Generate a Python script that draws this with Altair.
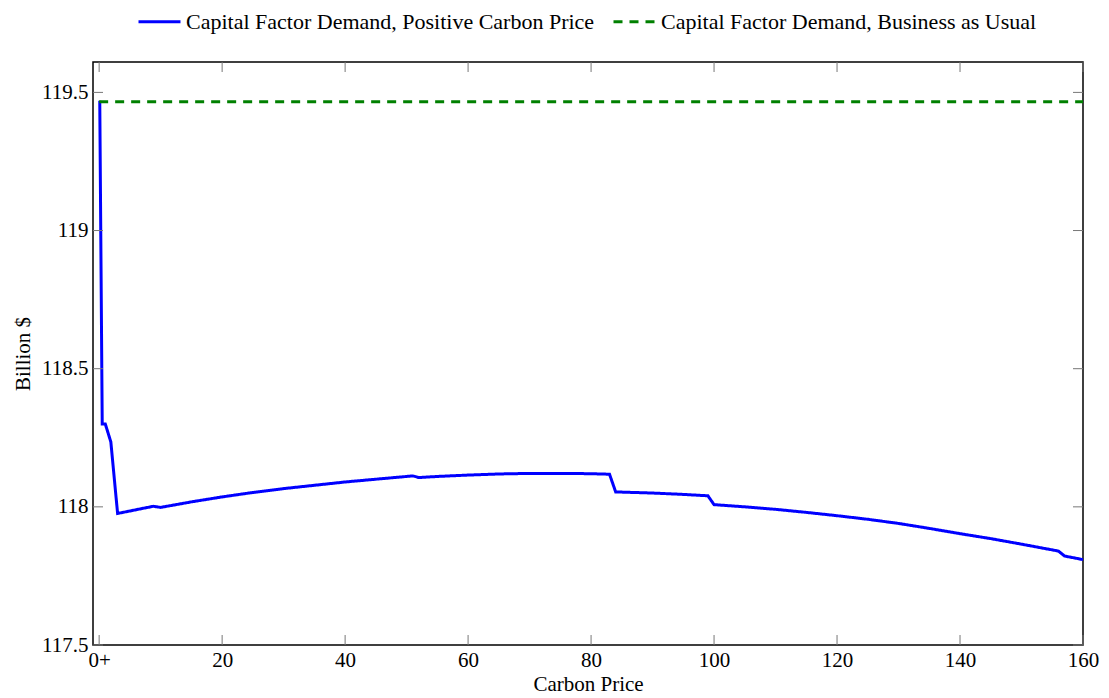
import altair as alt
import pandas as pd

# Carbon price (x) and capital factor demand in billion $ (y)
price = [0.1, 0.5, 1, 1.9, 3, 5, 7, 8.8, 10, 15, 20, 25, 30, 35, 40, 45, 51, 52,
         55, 60, 65, 70, 75, 80, 83, 84, 90, 95, 99, 100, 105, 110, 115, 120,
         125, 130, 135, 140, 145, 150, 156, 157, 160]
demand = [119.47, 118.30, 118.30, 118.235, 117.976, 117.985, 117.994, 118.002,
          117.998, 118.018, 118.036, 118.052, 118.066, 118.078, 118.090, 118.100,
          118.112, 118.106, 118.110, 118.115, 118.119, 118.121, 118.121, 118.120,
          118.118, 118.054, 118.050, 118.045, 118.040, 118.008, 118.000, 117.991,
          117.980, 117.968, 117.955, 117.940, 117.922, 117.903, 117.885, 117.865,
          117.840, 117.822, 117.809]

bau_price = [0, 160]
bau_demand = [119.466, 119.466]

series_pos = "Capital Factor Demand, Positive Carbon Price"
series_bau = "Capital Factor Demand, Business as Usual"

x_ticks = [0, 20, 40, 60, 80, 100, 120, 140, 160]
y_ticks = [117.5, 118, 118.5, 119, 119.5]

W, H = 990, 583
FONT = "Liberation Serif"

lines = pd.concat([
    pd.DataFrame({"price": price, "demand": demand, "series": series_pos}),
    pd.DataFrame({"price": bau_price, "demand": bau_demand, "series": series_bau}),
])

xs = alt.Scale(domain=[-1, 160], nice=False)
ys = alt.Scale(domain=[117.5, 119.61], nice=False, zero=False)

line_layer = alt.Chart(lines).mark_line(strokeWidth=3, clip=True).encode(
    x=alt.X("price:Q", scale=xs,
            axis=alt.Axis(values=x_ticks, title="Carbon Price", ticks=False, domain=False,
                          grid=False, labelPadding=4, titlePadding=3, labelFlush=False,
                          labelExpr="datum.value == 0 ? '0+' : datum.label")),
    y=alt.Y("demand:Q", scale=ys,
            axis=alt.Axis(values=y_ticks, title="Billion $", ticks=False, domain=False,
                          grid=False, format="~g", labelPadding=5, titlePadding=8,
                          labelFlush=False)),
    color=alt.Color("series:N",
                    scale=alt.Scale(domain=[series_pos, series_bau], range=["#0000ff", "#008000"]),
                    legend=alt.Legend(title=None, orient="none", direction="horizontal",
                                      legendX=44, legendY=-63, symbolType="stroke",
                                      symbolSize=1764, symbolStrokeWidth=3,
                                      columnPadding=12, labelOffset=4, labelLimit=1000,
                                      labelFont=FONT, labelFontSize=22, labelColor="black")),
    strokeDash=alt.StrokeDash("series:N",
                              scale=alt.Scale(domain=[series_pos, series_bau], range=[[1, 0], [9, 7]]),
                              legend=None),
)

# inward-pointing tick marks on all four sides
xt = pd.DataFrame({"price": x_ticks})
yt = pd.DataFrame({"demand": y_ticks})
tick_color = "#777777"
bottom_ticks = alt.Chart(xt).mark_rule(color=tick_color, strokeWidth=1).encode(
    x=alt.X("price:Q", scale=xs), y=alt.value(H), y2=alt.value(H - 10))
top_ticks = alt.Chart(xt).mark_rule(color=tick_color, strokeWidth=1).encode(
    x=alt.X("price:Q", scale=xs), y=alt.value(0), y2=alt.value(10))
left_ticks = alt.Chart(yt).mark_rule(color=tick_color, strokeWidth=1).encode(
    y=alt.Y("demand:Q", scale=ys), x=alt.value(0), x2=alt.value(10))
right_ticks = alt.Chart(yt).mark_rule(color=tick_color, strokeWidth=1).encode(
    y=alt.Y("demand:Q", scale=ys), x=alt.value(W), x2=alt.value(W - 10))

chart = alt.layer(line_layer, bottom_ticks, top_ticks, left_ticks, right_ticks).properties(
    width=W, height=H,
    background="white",
    autosize=alt.AutoSizeParams(type="none"),
    padding={"left": 93, "top": 62, "right": 26, "bottom": 53},
).configure_view(
    stroke="black", strokeWidth=1.5
).configure_axis(
    labelFont=FONT, labelFontSize=21, labelColor="black",
    titleFont=FONT, titleFontSize=21, titleColor="black", titleFontWeight="normal",
)

chart.save("out.html", embed_options={"renderer": "svg", "actions": False})
